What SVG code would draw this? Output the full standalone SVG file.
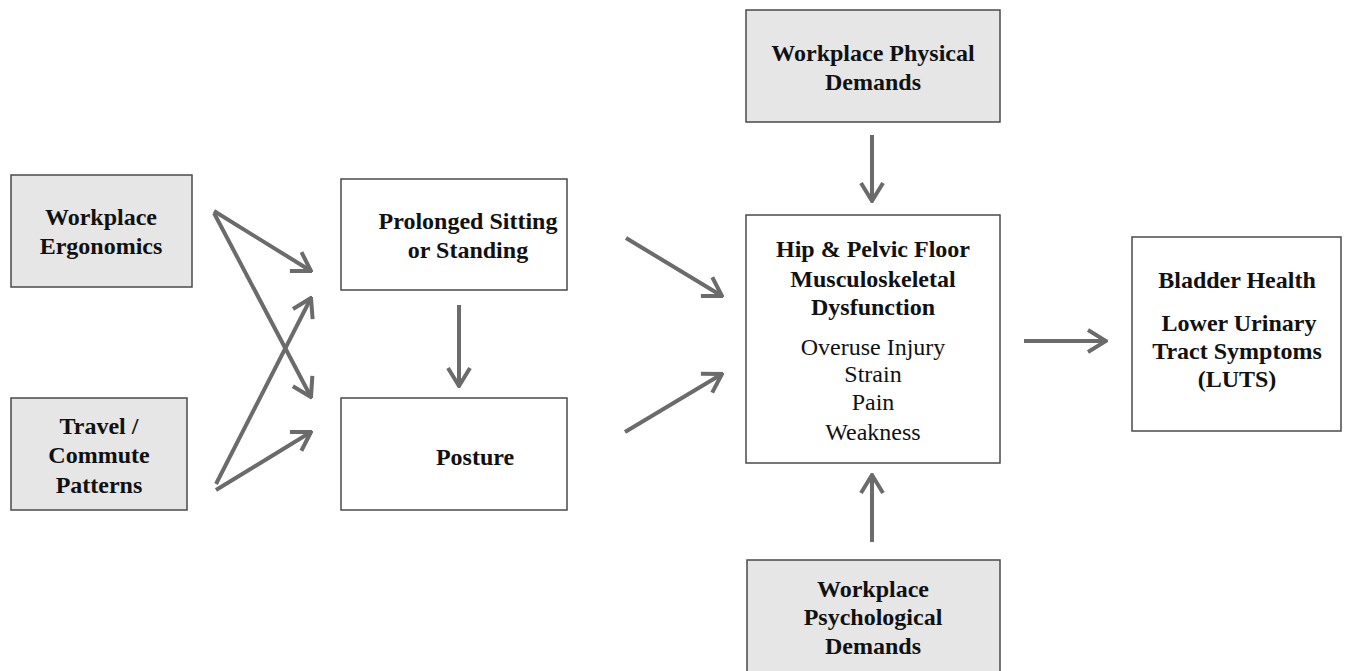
<svg xmlns="http://www.w3.org/2000/svg" width="1347" height="671" viewBox="0 0 1347 671">
<style>
.box{stroke:#4a4a4a;stroke-width:1.5}
.g{fill:#e6e6e6}
.w{fill:#ffffff}
text{font-family:"Liberation Serif","Times New Roman",serif;font-size:24px;fill:#111;text-anchor:middle}
.b{font-weight:bold}
.n{font-size:24px}
.c{stroke:#6b6b6b;stroke-width:4;fill:none}
</style>
<defs>
<marker id="ah" viewBox="0 0 22 26" refX="20" refY="13" markerWidth="22" markerHeight="26" markerUnits="userSpaceOnUse" orient="auto">
<path d="M2,2 L20,13 L2,24" fill="none" stroke="#6b6b6b" stroke-width="4"/>
</marker>
</defs>
<rect width="1347" height="671" fill="#fff"/>
<g id="ergonomics"><rect class="box g" x="11" y="175" width="181" height="112"/><text class="b" x="101" y="225">Workplace</text><text class="b" x="101" y="254">Ergonomics</text></g>
<g id="travel"><rect class="box g" x="11" y="398" width="176" height="112"/><text class="b" x="99" y="434">Travel /</text><text class="b" x="99" y="463">Commute</text><text class="b" x="99" y="493">Patterns</text></g>
<g id="prolonged"><rect class="box w" x="341" y="179" width="226" height="111"/><text class="b" x="468" y="229">Prolonged Sitting</text><text class="b" x="468" y="258">or Standing</text></g>
<g id="posture"><rect class="box w" x="341" y="398" width="226" height="112"/><text class="b" x="475" y="465">Posture</text></g>
<g id="physical"><rect class="box g" x="746" y="10" width="254" height="112"/><text class="b" x="873" y="61">Workplace Physical</text><text class="b" x="873" y="90">Demands</text></g>
<g id="hip"><rect class="box w" x="746" y="215" width="254" height="248"/><text class="b" x="873" y="257">Hip &amp; Pelvic Floor</text><text class="b" x="873" y="287">Musculoskeletal</text><text class="b" x="873" y="315">Dysfunction</text><text class="n" x="873" y="355">Overuse Injury</text><text class="n" x="873" y="382">Strain</text><text class="n" x="873" y="410">Pain</text><text class="n" x="873" y="440">Weakness</text></g>
<g id="psych"><rect class="box g" x="747" y="560" width="253" height="120"/><text class="b" x="873" y="597">Workplace</text><text class="b" x="873" y="625">Psychological</text><text class="b" x="873" y="654">Demands</text></g>
<g id="bladder"><rect class="box w" x="1132" y="237" width="209" height="194"/><text class="b" x="1237" y="288">Bladder Health</text><text class="b" x="1239" y="331">Lower Urinary</text><text class="b" x="1237" y="359">Tract Symptoms</text><text class="b" x="1237" y="387">(LUTS)</text></g>
<g id="connectors">
<line class="c" x1="214" y1="211" x2="311" y2="271" marker-end="url(#ah)"/>
<line class="c" x1="214" y1="213" x2="311" y2="397" marker-end="url(#ah)"/>
<line class="c" x1="216" y1="484" x2="311" y2="298" marker-end="url(#ah)"/>
<line class="c" x1="216" y1="490" x2="311" y2="432" marker-end="url(#ah)"/>
<line class="c" x1="459" y1="305" x2="459" y2="386" marker-end="url(#ah)"/>
<line class="c" x1="626" y1="238" x2="722" y2="296" marker-end="url(#ah)"/>
<line class="c" x1="625" y1="432" x2="722" y2="374" marker-end="url(#ah)"/>
<line class="c" x1="872" y1="135" x2="872" y2="201" marker-end="url(#ah)"/>
<line class="c" x1="872" y1="542" x2="872" y2="475" marker-end="url(#ah)"/>
<line class="c" x1="1024" y1="341" x2="1106" y2="341" marker-end="url(#ah)"/>
</g>
</svg>
